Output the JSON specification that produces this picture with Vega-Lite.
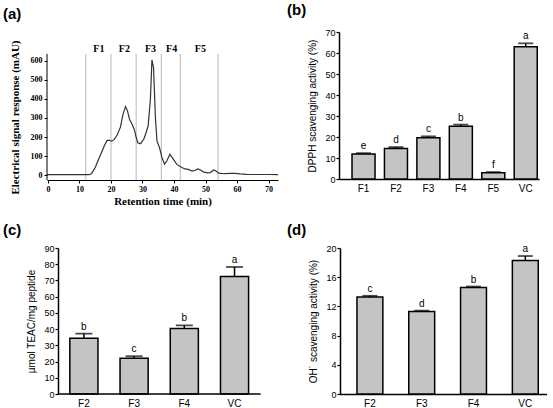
{
  "$schema": "https://vega.github.io/schema/vega-lite/v6.json",
  "padding": {"left": 3, "top": 3, "right": 0, "bottom": 0},
  "config": {
    "view": {"stroke": null},
    "axis": {"grid": false, "domainColor": "#000", "tickColor": "#000", "labelColor": "#000", "titleColor": "#000", "minExtent": 0, "labelOverlap": false}
  },
  "datasets": {
    "chrom": [
      {"t": -0.3, "s": 2}, {"t": 4, "s": 3}, {"t": 8, "s": 2}, {"t": 12, "s": 2}, {"t": 13, "s": 2},
      {"t": 13.5, "s": 4}, {"t": 14, "s": 12}, {"t": 15, "s": 40}, {"t": 16, "s": 80}, {"t": 17, "s": 118},
      {"t": 18, "s": 158}, {"t": 18.8, "s": 182}, {"t": 19.5, "s": 183}, {"t": 20.2, "s": 178}, {"t": 21, "s": 186},
      {"t": 22, "s": 212}, {"t": 23, "s": 252}, {"t": 23.8, "s": 318}, {"t": 24.6, "s": 360}, {"t": 25.2, "s": 340},
      {"t": 25.9, "s": 292}, {"t": 26.7, "s": 267}, {"t": 27.4, "s": 240}, {"t": 27.9, "s": 205}, {"t": 28.5, "s": 170},
      {"t": 29.4, "s": 165}, {"t": 30.4, "s": 188}, {"t": 31.2, "s": 225}, {"t": 31.8, "s": 260}, {"t": 32.5, "s": 395},
      {"t": 33.0, "s": 605}, {"t": 33.5, "s": 565}, {"t": 34.1, "s": 302}, {"t": 34.6, "s": 179}, {"t": 35.4, "s": 144},
      {"t": 36.2, "s": 91}, {"t": 37.0, "s": 57}, {"t": 37.7, "s": 74}, {"t": 38.7, "s": 110}, {"t": 39.6, "s": 88},
      {"t": 40.9, "s": 56}, {"t": 42.5, "s": 40}, {"t": 43.5, "s": 32}, {"t": 44.5, "s": 30}, {"t": 45.8, "s": 21},
      {"t": 46.7, "s": 25}, {"t": 47.6, "s": 32}, {"t": 48.4, "s": 27}, {"t": 49.3, "s": 17}, {"t": 50.5, "s": 12},
      {"t": 51.5, "s": 13}, {"t": 52.6, "s": 27}, {"t": 53.3, "s": 21}, {"t": 54.2, "s": 10}, {"t": 56, "s": 7},
      {"t": 58, "s": 9}, {"t": 59.5, "s": 9}, {"t": 61, "s": 6}, {"t": 63, "s": 4}, {"t": 66, "s": 3},
      {"t": 70, "s": 3}, {"t": 73, "s": 2}
    ],
    "cuts": [{"t": 12}, {"t": 20}, {"t": 28}, {"t": 36}, {"t": 42}, {"t": 54}],
    "dpph": [
      {"f": "F1", "v": 11.9, "up": 12.3, "l": "e"},
      {"f": "F2", "v": 14.5, "up": 15.2, "l": "d"},
      {"f": "F3", "v": 19.7, "up": 20.3, "l": "c"},
      {"f": "F4", "v": 25.1, "up": 25.9, "l": "b"},
      {"f": "F5", "v": 3.0, "up": 3.3, "l": "f"},
      {"f": "VC", "v": 63.0, "up": 64.6, "l": "a"}
    ],
    "teac": [
      {"f": "F2", "v": 34.4, "up": 37.2, "l": "b"},
      {"f": "F3", "v": 22.1, "up": 23.3, "l": "c"},
      {"f": "F4", "v": 40.3, "up": 42.3, "l": "b"},
      {"f": "VC", "v": 72.4, "up": 78.3, "l": "a"}
    ],
    "oh": [
      {"f": "F2", "v": 13.3, "up": 13.45, "l": "c"},
      {"f": "F3", "v": 11.3, "up": 11.42, "l": "d"},
      {"f": "F4", "v": 14.6, "up": 14.72, "l": "b"},
      {"f": "VC", "v": 18.3, "up": 18.9, "l": "a"}
    ]
  },
  "vconcat": [
    {
      "hconcat": [
        {
          "width": 231, "height": 148,
          "title": {"text": "(a)", "anchor": "start", "frame": "group", "dx": -44, "offset": 10, "fontSize": 15, "fontWeight": "bold", "font": "Liberation Sans", "color": "#000"},
          "layer": [
            {
              "data": {"name": "cuts"},
              "mark": {"type": "rule", "color": "#c4c4c4", "strokeWidth": 1.2},
              "encoding": {
                "x": {"field": "t", "type": "quantitative",
                  "scale": {"domain": [-0.3, 73], "nice": false, "zero": false},
                  "axis": {"orient": "top", "values": [16, 24.1, 32.4, 39.1, 48.2], "offset": -21,
                    "labelExpr": "datum.value < 20 ? 'F1' : datum.value < 28 ? 'F2' : datum.value < 36 ? 'F3' : datum.value < 42 ? 'F4' : 'F5'",
                    "ticks": false, "tickSize": 0, "domain": false, "title": null, "labelPadding": 0, "minExtent": 0,
                    "labelFont": "Liberation Serif", "labelFontWeight": "bold", "labelFontSize": 10}},
                "y": {"datum": -26, "type": "quantitative",
                  "axis": {"values": [0, 100, 200, 300, 400, 500, 600], "tickSize": 3, "domain": false, "minExtent": 0, "labelOverlap": false,
                    "title": "Electrical signal response (mAU)", "titleFont": "Liberation Serif", "titleFontSize": 11, "titleFontWeight": "bold", "titlePadding": 10, "titleY": 85,
                    "labelFont": "Liberation Serif", "labelFontWeight": "bold", "labelFontSize": 8, "labelPadding": 2}},
                "y2": {"datum": 637}
              }
            },
            {
              "data": {"name": "chrom"},
              "mark": {"type": "line", "color": "#333", "strokeWidth": 1.2},
              "encoding": {
                "x": {"field": "t", "type": "quantitative",
                  "axis": {"orient": "bottom", "values": [0, 10, 20, 30, 40, 50, 60, 70], "tickSize": 3, "minExtent": 0,
                    "title": "Retention time (min)", "titleFont": "Liberation Serif", "titleFontSize": 11, "titleFontWeight": "bold", "titlePadding": 2,
                    "labelFont": "Liberation Serif", "labelFontWeight": "bold", "labelFontSize": 8, "labelPadding": 2, "labelFlush": false}},
                "y": {"field": "s", "type": "quantitative",
                  "scale": {"domain": [-26, 752], "nice": false, "zero": false},
                  "axis": {"values": [0, 100, 200, 300, 400, 500, 600], "tickSize": 3, "domain": false, "minExtent": 0, "labelOverlap": false,
                    "title": "Electrical signal response (mAU)", "titleFont": "Liberation Serif", "titleFontSize": 11, "titleFontWeight": "bold", "titlePadding": 10, "titleY": 85,
                    "labelFont": "Liberation Serif", "labelFontWeight": "bold", "labelFontSize": 8, "labelPadding": 2}}
              }
            },
            {
              "data": {"values": [{}]},
              "mark": {"type": "rule", "color": "#000", "strokeWidth": 1},
              "encoding": {
                "x": {"datum": -0.3, "type": "quantitative", "axis": null},
                "y": {"datum": -26, "type": "quantitative",
                  "axis": {"values": [0, 100, 200, 300, 400, 500, 600], "tickSize": 3, "domain": false, "minExtent": 0, "labelOverlap": false,
                    "title": "Electrical signal response (mAU)", "titleFont": "Liberation Serif", "titleFontSize": 11, "titleFontWeight": "bold", "titlePadding": 10, "titleY": 85,
                    "labelFont": "Liberation Serif", "labelFontWeight": "bold", "labelFontSize": 8, "labelPadding": 2}},
                "y2": {"datum": 637}
              }
            }
          ],
          "resolve": {"axis": {"x": "independent"}}
        },
        {
          "width": 200, "height": 147,
          "data": {"name": "dpph"},
          "title": {"text": "(b)", "anchor": "start", "frame": "group", "dx": -52, "offset": 10, "fontSize": 15, "fontWeight": "bold", "font": "Liberation Sans", "color": "#000"},
          "encoding": {
            "x": {"field": "f", "type": "nominal", "sort": null,
              "scale": {"paddingInner": 0.29, "paddingOuter": 0.228, "align": 0.88},
              "axis": {"labelAngle": 0, "ticks": false, "title": null, "domainWidth": 1.5, "labelFont": "Liberation Sans", "labelFontSize": 10, "labelPadding": 4}}
          },
          "layer": [
            {
              "mark": {"type": "bar", "color": "#c4c4c4", "stroke": "#000", "strokeWidth": 1.5},
              "encoding": {
                "y": {"field": "v", "type": "quantitative",
                  "scale": {"domain": [0, 70], "nice": false},
                  "axis": {"values": [0, 10, 20, 30, 40, 50, 60, 70], "tickSize": 3, "domainWidth": 1.5, "tickWidth": 1.2, "minExtent": 0, "labelOverlap": false,
                    "title": "DPPH scavenging activity (%)", "titleFont": "Liberation Sans", "titleFontSize": 10, "titleFontWeight": "normal", "titlePadding": 7,
                    "labelFont": "Liberation Sans", "labelFontSize": 9, "labelPadding": 1}}
              }
            },
            {"mark": {"type": "rule", "color": "#000", "strokeWidth": 1.5},
              "encoding": {"y": {"field": "v", "type": "quantitative",
                  "axis": {"values": [0, 10, 20, 30, 40, 50, 60, 70], "tickSize": 3, "domainWidth": 1.5, "tickWidth": 1.2, "minExtent": 0, "labelOverlap": false,
                    "title": "DPPH scavenging activity (%)", "titleFont": "Liberation Sans", "titleFontSize": 10, "titleFontWeight": "normal", "titlePadding": 7,
                    "labelFont": "Liberation Sans", "labelFontSize": 9, "labelPadding": 1}}, "y2": {"field": "up"}}},
            {"mark": {"type": "tick", "color": "#000", "thickness": 1.8, "size": 15},
              "encoding": {"y": {"field": "up", "type": "quantitative",
                  "axis": {"values": [0, 10, 20, 30, 40, 50, 60, 70], "tickSize": 3, "domainWidth": 1.5, "tickWidth": 1.2, "minExtent": 0, "labelOverlap": false,
                    "title": "DPPH scavenging activity (%)", "titleFont": "Liberation Sans", "titleFontSize": 10, "titleFontWeight": "normal", "titlePadding": 7,
                    "labelFont": "Liberation Sans", "labelFontSize": 9, "labelPadding": 1}}}},
            {"mark": {"type": "text", "dy": -4, "baseline": "alphabetic", "font": "Liberation Sans", "fontSize": 10, "color": "#000"},
              "encoding": {"y": {"field": "up", "type": "quantitative",
                  "axis": {"values": [0, 10, 20, 30, 40, 50, 60, 70], "tickSize": 3, "domainWidth": 1.5, "tickWidth": 1.2, "minExtent": 0, "labelOverlap": false,
                    "title": "DPPH scavenging activity (%)", "titleFont": "Liberation Sans", "titleFontSize": 10, "titleFontWeight": "normal", "titlePadding": 7,
                    "labelFont": "Liberation Sans", "labelFontSize": 9, "labelPadding": 1}}, "text": {"field": "l"}}}
          ]
        }
      ],
      "spacing": 6
    },
    {
      "hconcat": [
        {
          "width": 215, "height": 146,
          "data": {"name": "teac"},
          "title": {"text": "(c)", "anchor": "start", "frame": "group", "dx": -44, "offset": 6, "fontSize": 15, "fontWeight": "bold", "font": "Liberation Sans", "color": "#000"},
          "encoding": {
            "x": {"field": "f", "type": "nominal", "sort": null,
              "scale": {"paddingInner": 0.44, "paddingOuter": 0.361, "align": 0.63},
              "axis": {"labelAngle": 0, "ticks": false, "title": null, "domain": false, "labelFont": "Liberation Sans", "labelFontSize": 10, "labelPadding": 4}}
          },
          "layer": [
            {
              "mark": {"type": "bar", "color": "#c4c4c4", "stroke": "#000", "strokeWidth": 1.5},
              "encoding": {
                "y": {"field": "v", "type": "quantitative",
                  "scale": {"domain": [0, 90], "nice": false},
                  "axis": {"values": [0, 10, 20, 30, 40, 50, 60, 70, 80, 90], "tickSize": 3, "domainWidth": 1.5, "tickWidth": 1.2, "minExtent": 0, "labelOverlap": false, "offset": -11,
                    "title": "µmol TEAC/mg peptide", "titleFont": "Liberation Sans", "titleFontSize": 10, "titleFontWeight": "normal", "titlePadding": 7,
                    "labelFont": "Liberation Sans", "labelFontSize": 9, "labelPadding": 1}}
              }
            },
            {"mark": {"type": "rule", "color": "#000", "strokeWidth": 1.5},
              "encoding": {"y": {"field": "v", "type": "quantitative",
                  "axis": {"values": [0, 10, 20, 30, 40, 50, 60, 70, 80, 90], "tickSize": 3, "domainWidth": 1.5, "tickWidth": 1.2, "minExtent": 0, "labelOverlap": false, "offset": -11,
                    "title": "µmol TEAC/mg peptide", "titleFont": "Liberation Sans", "titleFontSize": 10, "titleFontWeight": "normal", "titlePadding": 7,
                    "labelFont": "Liberation Sans", "labelFontSize": 9, "labelPadding": 1}}, "y2": {"field": "up"}}},
            {"mark": {"type": "tick", "color": "#000", "thickness": 1.8, "size": 17},
              "encoding": {"y": {"field": "up", "type": "quantitative",
                  "axis": {"values": [0, 10, 20, 30, 40, 50, 60, 70, 80, 90], "tickSize": 3, "domainWidth": 1.5, "tickWidth": 1.2, "minExtent": 0, "labelOverlap": false, "offset": -11,
                    "title": "µmol TEAC/mg peptide", "titleFont": "Liberation Sans", "titleFontSize": 10, "titleFontWeight": "normal", "titlePadding": 7,
                    "labelFont": "Liberation Sans", "labelFontSize": 9, "labelPadding": 1}}}},
            {"mark": {"type": "text", "dy": -4, "baseline": "alphabetic", "font": "Liberation Sans", "fontSize": 10, "color": "#000"},
              "encoding": {"y": {"field": "up", "type": "quantitative",
                  "axis": {"values": [0, 10, 20, 30, 40, 50, 60, 70, 80, 90], "tickSize": 3, "domainWidth": 1.5, "tickWidth": 1.2, "minExtent": 0, "labelOverlap": false, "offset": -11,
                    "title": "µmol TEAC/mg peptide", "titleFont": "Liberation Sans", "titleFontSize": 10, "titleFontWeight": "normal", "titlePadding": 7,
                    "labelFont": "Liberation Sans", "labelFontSize": 9, "labelPadding": 1}}, "text": {"field": "l"}}},
            {"data": {"values": [{}]},
              "mark": {"type": "rule", "color": "#000", "strokeWidth": 1.5},
              "encoding": {
                "x": {"datum": "F2", "bandPosition": -0.43},
                "x2": {"datum": "VC", "bandPosition": 1.43},
                "y": {"datum": 0, "type": "quantitative",
                  "axis": {"values": [0, 10, 20, 30, 40, 50, 60, 70, 80, 90], "tickSize": 3, "domainWidth": 1.5, "tickWidth": 1.2, "minExtent": 0, "labelOverlap": false, "offset": -11,
                    "title": "µmol TEAC/mg peptide", "titleFont": "Liberation Sans", "titleFontSize": 10, "titleFontWeight": "normal", "titlePadding": 7,
                    "labelFont": "Liberation Sans", "labelFontSize": 9, "labelPadding": 1}}}}
          ]
        },
        {
          "width": 207, "height": 146,
          "data": {"name": "oh"},
          "title": {"text": "(d)", "anchor": "start", "frame": "group", "dx": -53, "offset": 6, "fontSize": 15, "fontWeight": "bold", "font": "Liberation Sans", "color": "#000"},
          "encoding": {
            "x": {"field": "f", "type": "nominal", "sort": null,
              "scale": {"paddingInner": 0.5, "paddingOuter": 0.248, "align": 0.66},
              "axis": {"labelAngle": 0, "ticks": false, "title": null, "domainWidth": 1.5, "labelFont": "Liberation Sans", "labelFontSize": 10, "labelPadding": 4}}
          },
          "layer": [
            {
              "mark": {"type": "bar", "color": "#c4c4c4", "stroke": "#000", "strokeWidth": 1.5},
              "encoding": {
                "y": {"field": "v", "type": "quantitative",
                  "scale": {"domain": [0, 20], "nice": false},
                  "axis": {"values": [0, 4, 8, 12, 16, 20], "tickSize": 3, "domainWidth": 1.5, "tickWidth": 1.2, "minExtent": 0, "labelOverlap": false,
                    "title": "OH˙ scavenging activity (%)", "titleFont": "Liberation Sans", "titleFontSize": 10, "titleFontWeight": "normal", "titlePadding": 7,
                    "labelFont": "Liberation Sans", "labelFontSize": 9, "labelPadding": 1}}
              }
            },
            {"mark": {"type": "rule", "color": "#000", "strokeWidth": 1.5},
              "encoding": {"y": {"field": "v", "type": "quantitative",
                  "axis": {"values": [0, 4, 8, 12, 16, 20], "tickSize": 3, "domainWidth": 1.5, "tickWidth": 1.2, "minExtent": 0, "labelOverlap": false,
                    "title": "OH˙ scavenging activity (%)", "titleFont": "Liberation Sans", "titleFontSize": 10, "titleFontWeight": "normal", "titlePadding": 7,
                    "labelFont": "Liberation Sans", "labelFontSize": 9, "labelPadding": 1}}, "y2": {"field": "up"}}},
            {"mark": {"type": "tick", "color": "#000", "thickness": 1.8, "size": 15},
              "encoding": {"y": {"field": "up", "type": "quantitative",
                  "axis": {"values": [0, 4, 8, 12, 16, 20], "tickSize": 3, "domainWidth": 1.5, "tickWidth": 1.2, "minExtent": 0, "labelOverlap": false,
                    "title": "OH˙ scavenging activity (%)", "titleFont": "Liberation Sans", "titleFontSize": 10, "titleFontWeight": "normal", "titlePadding": 7,
                    "labelFont": "Liberation Sans", "labelFontSize": 9, "labelPadding": 1}}}},
            {"mark": {"type": "text", "dy": -4, "baseline": "alphabetic", "font": "Liberation Sans", "fontSize": 10, "color": "#000"},
              "encoding": {"y": {"field": "up", "type": "quantitative",
                  "axis": {"values": [0, 4, 8, 12, 16, 20], "tickSize": 3, "domainWidth": 1.5, "tickWidth": 1.2, "minExtent": 0, "labelOverlap": false,
                    "title": "OH˙ scavenging activity (%)", "titleFont": "Liberation Sans", "titleFontSize": 10, "titleFontWeight": "normal", "titlePadding": 7,
                    "labelFont": "Liberation Sans", "labelFontSize": 9, "labelPadding": 1}}, "text": {"field": "l"}}}
          ]
        }
      ],
      "spacing": 25
    }
  ],
  "spacing": 17
}
